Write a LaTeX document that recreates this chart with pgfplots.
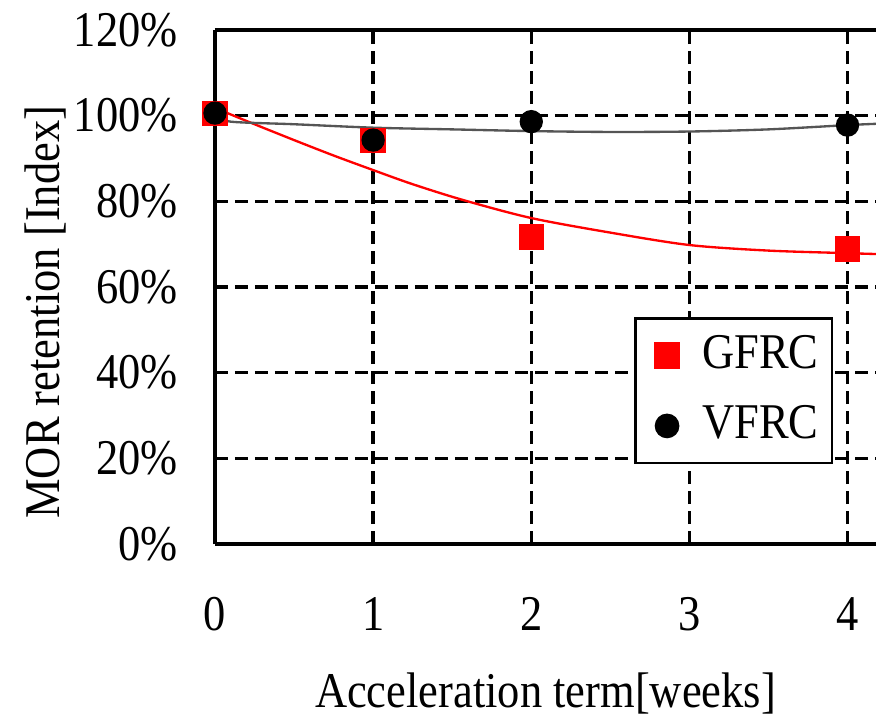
\documentclass[border=0pt]{standalone}
\usepackage{fontspec}
\setmainfont[FakeStretch=0.89]{Liberation Serif}
\usepackage{pgfplots}
\pgfplotsset{compat=1.18}
\definecolor{trendgray}{RGB}{85,85,85}

\begin{document}
\fontsize{15}{18}\selectfont
\begin{tikzpicture}
\begin{axis}[
  name=ax,
  scale only axis, width=198.3pt, height=154.2pt,
  xmin=0, xmax=4.18, ymin=0, ymax=120,
  axis x line*=box, axis y line*=left,
  axis line style={black, line width=1pt},
  xtick={0,1,2,3,4}, xticklabels={0,1,2,3,4},
  ytick={0,20,40,60,80,100,120},
  yticklabels={0\%,20\%,40\%,60\%,80\%,100\%,120\%},
  major tick length=0pt,
  grid=major,
  major grid style={black, line width=1pt, dash pattern=on 3.9pt off 2.1pt},
  xticklabel style={yshift=-10.9pt},
  yticklabel style={xshift=-6pt},
  xlabel={Acceleration term[weeks]},
  ylabel={MOR retention [Index]},
  xlabel style={at={(axis description cs:0.5,-0.29)}, anchor=center},
  ylabel style={at={(axis description cs:-0.257,0.451)}, anchor=center},
  legend style={at={(0.634,0.4416)}, anchor=north west, draw=black,
    line width=0.8pt, inner xsep=2pt, inner ysep=3pt, row sep=5pt,
    /tikz/every odd column/.append style={column sep=5pt}},
  legend image code/.code={\path (-7.1pt,0pt);
    \draw[#1] plot coordinates {(0pt,0pt)};},
  legend cell align=left,
]
% fitted trend lines
\addplot[red, line width=0.7pt, smooth, forget plot] coordinates {
  (0,101.8)(0.25,98.0)(0.5,94.3)(0.75,90.7)(1,87.3)(1.25,84.0)(1.57,80.3)
  (2,76.1)(2.5,72.7)(3,69.8)(3.5,68.5)(4,67.9)(4.18,67.7)};
\addplot[trendgray, line width=0.7pt, smooth, forget plot] coordinates {
  (0,100.0)(0.1,98.6)(0.5,98.0)(1,97.2)(1.5,96.8)(2,96.4)(2.5,96.2)
  (3,96.3)(3.5,96.8)(4,97.8)(4.18,98.1)};
% measured points
\addplot[only marks, mark=square*, mark size=3.6pt, color=red] coordinates {
  (0,100.5)(1,94.2)(2,71.7)(4,68.9)};
\addlegendentry{GFRC}
\addplot[only marks, mark=*, mark size=3.3pt, color=black] coordinates {
  (0,100.6)(1,94.3)(2,98.6)(4,97.8)};
\addlegendentry{VFRC}
\end{axis}
\pgfresetboundingbox
\path[use as bounding box] ([xshift=-64.5pt,yshift=-54pt]ax.south west)
  rectangle ([yshift=9pt]ax.north east);
\end{tikzpicture}
\end{document}
